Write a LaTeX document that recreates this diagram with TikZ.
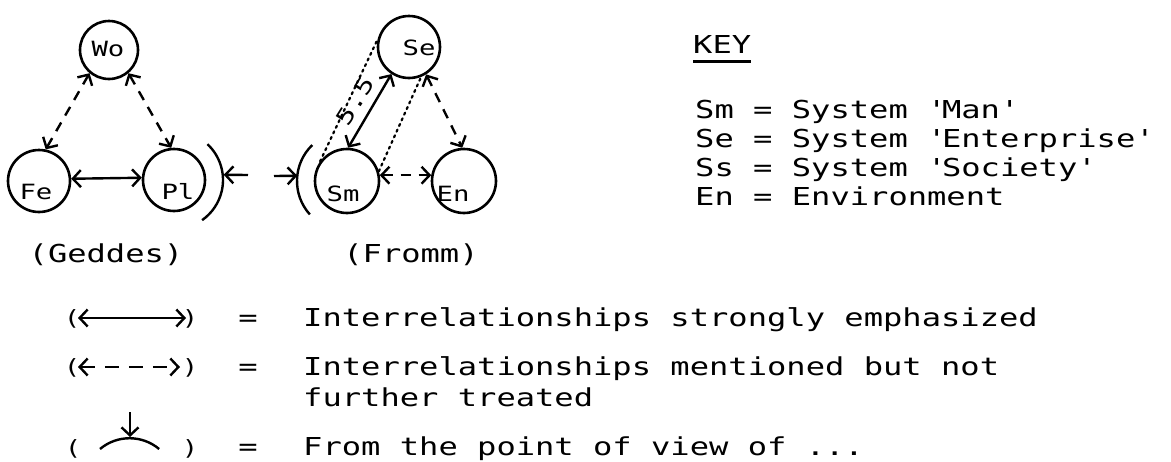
\documentclass[tikz,border=0pt]{standalone}
\usepackage{fontspec}
\usetikzlibrary{arrows.meta,calc}
\newfontfamily\tw[FakeStretch=1.3]{DejaVu Sans Mono}
\tikzset{
  >={Straight Barb[length=8pt,width=17pt]},
  sys/.style={circle,draw,line width=2.6pt,minimum size=62pt,inner sep=0pt},
  lab/.style={font=\tw\fontsize{21}{24}\selectfont,anchor=base,inner sep=0pt},
  txt/.style={font=\tw\fontsize{24.7}{28}\selectfont,anchor=base west,inner sep=0pt},
  par/.style={font=\tw\fontsize{21}{24}\selectfont,anchor=base,inner sep=0pt},
  strong/.style={line width=2.4pt,<->},
  weak/.style={line width=2.4pt,dash pattern=on 10pt off 8pt,<->},
  dotline/.style={line width=2.2pt,dash pattern=on 2.2pt off 4pt,line cap=round},
  view/.style={line width=2.4pt},
}
\begin{document}
\begin{tikzpicture}[x=1pt,y=-1pt]
\fill[white] (0,0) rectangle (1171,461);
\useasboundingbox (0,0) rectangle (1171,461);

% Geddes triangle
\node[sys,minimum size=58pt] (Wo) at (109,50) {};
\node[sys] (Fe) at (39,181) {};
\node[sys] (Pl) at (174,180) {};
\node[lab] (tWo) at (108,56) {Wo};
\node[lab] (tFe) at (36,199) {Fe};
\node[lab] (tPl) at (178,199) {Pl};
\draw[weak] (Wo.230) -- (Fe.78);
\draw[weak] (Wo.-50) -- (Pl.95);
\draw[strong] (Fe.4) -- (Pl.176);
\draw[view] (Pl.center) ++(47:49pt) arc[start angle=47,end angle=-55,radius=49pt];
\coordinate (gbr) at ($(Pl.center)+(6:50pt)$);
\coordinate (gfrom) at (248,175);
\draw[view,->] (gfrom) -- (gbr);

% Fromm triangle
\node[sys] (Se) at (409,47) {};
\node[sys,minimum size=64pt] (Sm) at (347,181) {};
\node[sys,minimum size=64pt] (En) at (464,181) {};
\node[lab] (tSe) at (419,55) {Se};
\node[lab] (tSm) at (343,201) {Sm};
\node[lab] (tEn) at (453,201) {En};
\draw[strong] (Sm.88) -- (Se.237);
\node[font=\tw\fontsize{22}{26}\selectfont,inner sep=0pt,rotate=58] (v55) at (355,101) {5.5};
\draw[dotline] (Sm.144) -- (Se.166);
\draw[dotline] (Sm.17) -- (Se.292);
\draw[weak] (Se.302) -- (En.93);
\draw[weak] (Sm.10) -- (En.170);
\draw[view] (Sm.center) ++(134:50pt) arc[start angle=134,end angle=222,radius=50pt];
\coordinate (fbr) at ($(Sm.center)+(174:50pt)$);
\coordinate (ffrom) at (274,176);
\draw[view,->] (ffrom) -- (fbr);

\node[txt,anchor=base] (geddes) at (106,262) {(Geddes)};
\node[txt,anchor=base] (fromm) at (411,262) {(Fromm)};

% Key
\node[txt] (key) at (693,53) {KEY};
\draw[line width=3pt] ([yshift=-8pt]key.base west) -- ([yshift=-8pt]key.base east);
\node[txt] (k1) at (695,118) {Sm = System \textquotesingle Man\textquotesingle};
\node[txt] (k2) at (695,147) {Se = System \textquotesingle Enterprise\textquotesingle};
\node[txt] (k3) at (695,176) {Ss = System \textquotesingle Society\textquotesingle};
\node[txt] (k4) at (695,205) {En = Environment};

% Legend
\node[par] (l1a) at (72,325) {(};
\node[par] (l1b) at (190,325) {)};
\coordinate (a1) at (78,318);
\coordinate (b1) at (186,318);
\draw[strong] (a1) -- (b1);
\node[txt,anchor=base] (eq1) at (248,326) {=};
\node[txt] (d1) at (303,326) {Interrelationships strongly emphasized};

\node[par] (l2a) at (72,374) {(};
\node[par] (l2b) at (190,374) {)};
\coordinate (a2) at (78,367);
\coordinate (b2) at (180,367);
\draw[line width=2.4pt,dash pattern=on 14pt off 10pt,<->] (a2) -- (b2);
\node[txt,anchor=base] (eq2) at (248,375) {=};
\node[txt] (d2) at (303,375) {Interrelationships mentioned but not};
\node[txt] (d2b) at (303,406) {further treated};

\node[par] (l3a) at (73,455) {(};
\node[par] (l3b) at (190,455) {)};
\coordinate (arcL) at (100,449);
\draw[view] (arcL) arc[start angle=130,end angle=50,radius=46pt];
\coordinate (vtop) at (130,412);
\coordinate (vtip) at (130,437);
\draw[view,->] (vtop) -- (vtip);
\node[txt,anchor=base] (eq3) at (248,455) {=};
\node[txt] (d3) at (303,455) {From the point of view of ...};
\end{tikzpicture}
\end{document}
